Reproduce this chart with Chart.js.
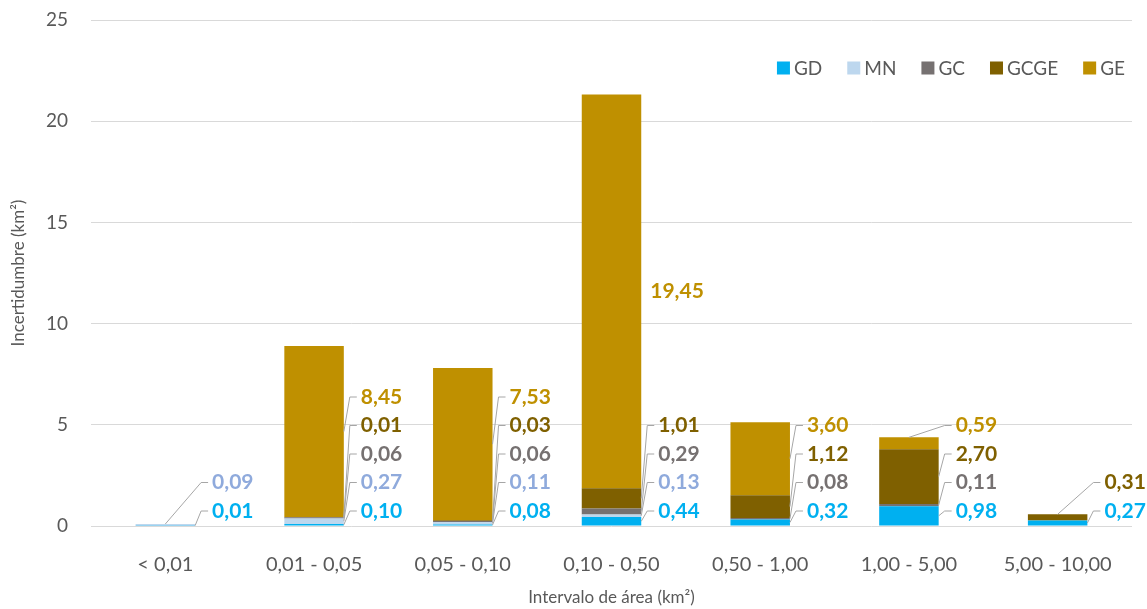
<!DOCTYPE html>
<html>
<head>
<meta charset="utf-8">
<script src="https://cdn.jsdelivr.net/npm/chart.js@4/dist/chart.umd.min.js"></script>
<style>
html,body{margin:0;padding:0;background:#fff;}
#wrap{width:1147px;height:609px;position:relative;}
</style>
</head>
<body>
<div id="wrap"><canvas id="c" width="1147" height="609"></canvas></div>
<script>
const categories = ['< 0,01','0,01 - 0,05','0,05 - 0,10','0,10 - 0,50','0,50 - 1,00','1,00 - 5,00','5,00 - 10,00'];
const seriesNames = ['GD','MN','GC','GCGE','GE'];
const gd   = [0.01, 0.10, 0.08, 0.44, 0.32, 0.98, 0.27];
const mn   = [0.09, 0.27, 0.11, 0.13, null, null, null];
const gc   = [null, 0.06, 0.06, 0.29, 0.08, 0.11, null];
const gcge = [null, 0.01, 0.03, 1.01, 1.12, 2.70, 0.31];
const ge   = [null, 8.45, 7.53, 19.45, 3.60, 0.59, null];
const yTicks = [0, 5, 10, 15, 20, 25];

const barColors   = ['#00b0f0', '#bdd7ee', '#767171', '#7f6000', '#bf9000'];
const labelColors = ['#00b0f0', '#8faadc', '#767171', '#7f6000', '#bf9000'];
const seriesData = [gd, mn, gc, gcge, ge];
const FONT = 'Lato, "Open Sans", sans-serif';
const fmt = v => v.toFixed(2).replace('.', ',');

const legendPlugin = {
  id: 'customLegend',
  afterDraw(chart) {
    const ctx = chart.ctx;
    ctx.save();
    ctx.font = '19px ' + FONT;
    ctx.textBaseline = 'middle';
    const y = 68, sw = 13, gapST = 4, gapItem = 25;
    const widths = seriesNames.map(n => ctx.measureText(n).width);
    let total = 0;
    widths.forEach((w, i) => { total += sw + gapST + w + (i < widths.length - 1 ? gapItem : 0); });
    let x = 1125 - total;
    seriesNames.forEach((n, i) => {
      ctx.fillStyle = barColors[i];
      ctx.fillRect(x, y - sw / 2, sw, sw);
      x += sw + gapST;
      ctx.fillStyle = '#595959';
      ctx.textAlign = 'left';
      ctx.fillText(n, x, y + 1);
      x += widths[i] + gapItem;
    });
    ctx.restore();
  }
};

const labelPlugin = {
  id: 'leaderLabels',
  afterDatasetsDraw(chart) {
    const ctx = chart.ctx;
    const yScale = chart.scales.y;
    const y0 = yScale.getPixelForValue(0);
    ctx.save();
    ctx.font = 'bold 21px ' + FONT;
    ctx.textBaseline = 'middle';
    ctx.textAlign = 'left';
    categories.forEach((cat, i) => {
      const present = [];
      seriesData.forEach((arr, d) => { if (arr[i] != null && arr[i] !== 0) present.push(d); });
      present.forEach((d, k) => {
        const el = chart.getDatasetMeta(d).data[i];
        const half = el.width / 2;
        const barRight = el.x + half;
        const top = Math.min(el.y, el.base), bot = Math.max(el.y, el.base);
        const segMid = (top + bot) / 2;
        const isTop = k === present.length - 1;
        let ly = y0 - 15 - 28.5 * k;
        const lx = barRight + 17;
        const txt = fmt(seriesData[d][i]);
        ctx.fillStyle = labelColors[d];
        if (isTop && segMid < ly - 40) {
          ctx.fillText(txt, barRight + 9, segMid);
          return;
        }
        let ax, ay;
        if (isTop && ly < top) { ax = el.x; ay = top; }
        else { ax = barRight; ay = segMid; }
        ctx.strokeStyle = '#a6a6a6';
        ctx.lineWidth = 1;
        ctx.beginPath();
        ctx.moveTo(lx - 4, ly);
        ctx.lineTo(lx - 11, ly);
        ctx.lineTo(ax, ay);
        ctx.stroke();
        ctx.fillStyle = labelColors[d];
        ctx.fillText(txt, lx, ly);
      });
    });
    ctx.restore();
  }
};

new Chart(document.getElementById('c'), {
  type: 'bar',
  data: {
    labels: categories,
    datasets: seriesNames.map((n, i) => ({
      label: n,
      data: seriesData[i],
      backgroundColor: barColors[i],
      borderWidth: 0,
      categoryPercentage: 1,
      barPercentage: 0.4
    }))
  },
  options: {
    responsive: false,
    animation: false,
    devicePixelRatio: 1,
    layout: { padding: { top: 20, right: 15, left: 0, bottom: 0 } },
    plugins: { legend: { display: false }, tooltip: { enabled: false } },
    scales: {
      x: {
        stacked: true,
        grid: { display: false },
        border: { display: false },
        ticks: { color: '#595959', font: { family: FONT, size: 20 }, padding: 19, maxRotation: 0, autoSkip: false },
        title: { display: true, text: 'Intervalo de área (km²)', color: '#595959', font: { family: FONT, size: 17 }, padding: { top: 0, bottom: 1 } },
        afterFit(s) { s.height = 83; }
      },
      y: {
        stacked: true,
        min: 0, max: 25,
        afterBuildTicks(s) { s.ticks = yTicks.map(v => ({ value: v })); },
        grid: { color: '#d9d9d9', drawTicks: false },
        border: { display: false },
        ticks: { color: '#595959', font: { family: FONT, size: 19 }, padding: 23 },
        title: { display: true, text: 'Incertidumbre (km²)', color: '#595959', font: { family: FONT, size: 17 }, padding: { top: 8, bottom: 0 } },
        afterFit(s) { s.width = 91; s.paddingTop = 0; s.paddingBottom = 0; }
      }
    }
  },
  plugins: [labelPlugin, legendPlugin]
});
</script>
</body>
</html>
